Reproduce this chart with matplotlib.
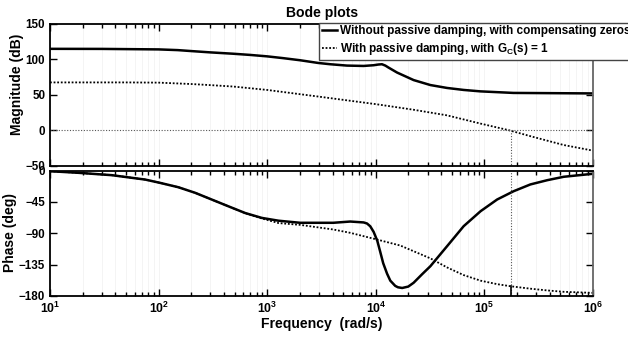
import matplotlib
matplotlib.use('Agg')
from matplotlib import pyplot as plt
from matplotlib import font_manager
import matplotlib.ticker as mticker

# condensed face for the horizontal texts, plain Liberation Sans otherwise
try:
    font_manager.findfont('Liberation Sans Narrow', fallback_to_default=False)
    NARROW = 'Liberation Sans Narrow'
    SCALE = 1.0
except ValueError:
    NARROW = 'Liberation Sans'
    SCALE = 0.84

plt.rcParams['font.family'] = ['Liberation Sans', 'DejaVu Sans']
plt.rcParams['font.weight'] = 'bold'
plt.rcParams['mathtext.fontset'] = 'custom'
plt.rcParams['mathtext.rm'] = NARROW + ':bold'
plt.rcParams['mathtext.bf'] = NARROW + ':bold'
plt.rcParams['mathtext.it'] = NARROW + ':bold'
plt.rcParams['mathtext.default'] = 'bf'

# magnitude, without passive damping (compensating zeros)
mag_w_solid = [10, 30, 100, 150, 202, 300, 486, 700, 1000, 1400, 2014, 2950,
               3810, 5430, 7730, 9550, 10550, 11400, 12240, 13100, 15700,
               22300, 31800, 45300, 64400, 91800, 185000, 1e6]
mag_solid = [114.6, 114.5, 113.8, 112.8, 111.4, 109.6, 107.7, 106.0, 104.0,
             101.5, 98.5, 94.7, 92.9, 91.0, 90.5, 91.5, 92.5, 92.9, 91.0, 88.2,
             81.2, 70.6, 63.6, 59.5, 56.7, 54.7, 52.5, 51.8]

# magnitude, with passive damping, Gc(s) = 1
mag_w_dotted = [10, 50, 100, 202, 300, 486, 1000, 2950, 10000, 22300, 45300,
                92200, 167600, 265000, 538000, 1e6]
mag_dotted = [67.3, 67.3, 67.0, 65.0, 63.5, 61.5, 56.7, 47.4, 36.7, 28.8, 20.9,
              9.3, 0.0, -8.4, -20.9, -28.8]

# phase, without passive damping
ph_w_solid = [10, 18.2, 37.1, 75.2, 103, 152, 217, 309, 440, 627, 893, 1271,
              2014, 4055, 5820, 7730, 8300, 8890, 9550, 10330, 11000, 11700,
              12700, 13600, 15100, 16000, 17500, 19900, 22300, 26600, 31800,
              45300, 64400, 92200, 131000, 186000, 265000, 379000, 538000, 1e6]
ph_solid = [-1.0, -3.3, -6.7, -13.0, -17.7, -24.0, -32.0, -41.7, -51.4, -61.0,
            -68.0, -72.0, -75.0, -75.0, -73.2, -74.5, -76.0, -80.0, -88.0,
            -101.0, -117.0, -133.0, -148.0, -158.0, -165.5, -167.5, -168.5,
            -166.5, -161.0, -149.0, -137.3, -108.6, -79.9, -58.4, -41.6, -29.7,
            -20.0, -13.9, -9.0, -4.7]

# phase, with passive damping
ph_w_dotted = [10, 18.2, 37.1, 75.2, 103, 152, 217, 309, 440, 627, 893, 1271,
               2014, 4055, 5820, 10250, 16800, 22300, 31800, 45300, 64400,
               92200, 131000, 174000, 265000, 379000, 538000, 1e6]
ph_dotted = [-1.0, -3.3, -6.7, -13.0, -17.7, -24.0, -32.0, -41.7, -51.4, -61.2,
             -68.8, -75.4, -78.0, -84.6, -89.4, -99.0, -107.6, -115.8, -126.0,
             -139.0, -150.0, -158.0, -163.0, -166.0, -169.5, -172.0, -174.0,
             -175.5]

# gain crossover of the damped loop and its phase there
w_cross = 174000
ph_cross = -166.0

xticks = [1e1, 1e2, 1e3, 1e4, 1e5, 1e6]
xticklabels = [r'$\mathbf{10^{%d}}$' % k for k in range(1, 7)]

fig = plt.figure(figsize=(6.28, 3.37), dpi=100)
ax_mag = fig.add_axes([50 / 628, 1 - 165.7 / 337, 543 / 628, 142 / 337])
ax_ph = fig.add_axes([50 / 628, 1 - 296 / 337, 543 / 628, 125.5 / 337])

l1, = ax_mag.plot(mag_w_solid, mag_solid, color='black', lw=1.8)
l2, = ax_mag.plot(mag_w_dotted, mag_dotted, color='black', lw=1.3,
                  linestyle=(0, (1, 1)))
ax_mag.axhline(0, color='#555555', lw=0.8, linestyle=(0, (1, 1.5)))
ax_mag.plot([w_cross, w_cross], [0, -50], color='#555555', lw=0.8,
            linestyle=(0, (1, 1.5)))
ax_mag.set_ylim(-50, 150)
ax_mag.set_yticks([-50, 0, 50, 100, 150])
ax_mag.set_ylabel('Magnitude (dB)', fontsize=10, fontweight='bold')
ax_mag.yaxis.set_label_coords(-0.047, 0.575)

ax_ph.plot(ph_w_solid, ph_solid, color='black', lw=1.8)
ax_ph.plot(ph_w_dotted, ph_dotted, color='black', lw=1.3,
           linestyle=(0, (1, 1)))
ax_ph.axhline(-180, color='#555555', lw=0.8, linestyle=(0, (1, 1.5)))
ax_ph.axvline(w_cross, color='#555555', lw=0.8, linestyle=(0, (1, 1.5)))
ax_ph.plot([w_cross, w_cross], [-180, ph_cross], color='black', lw=1.2)
ax_ph.set_ylim(-180, 0)
ax_ph.set_yticks([-180, -135, -90, -45, 0])
ax_ph.set_ylabel('Phase (deg)', fontsize=10, fontweight='bold')
ax_ph.yaxis.set_label_coords(-0.060, 0.506)
ax_ph.set_xlabel('Frequency  (rad/s)', fontsize=12 * SCALE, fontweight='bold',
                 family=NARROW)
ax_ph.xaxis.set_label_coords(0.5, -0.17)

for ax in (ax_mag, ax_ph):
    ax.set_xscale('log')
    ax.set_xlim(10, 1e6)
    ax.set_xticks(xticks)
    ax.xaxis.set_minor_locator(mticker.LogLocator(base=10, subs=range(2, 10),
                                                  numticks=20))
    ax.xaxis.set_minor_formatter(mticker.NullFormatter())
    ax.grid(True, which='both', axis='x', color='#f0f0f0', lw=0.5)
    ax.set_axisbelow(True)
    ax.tick_params(which='both', direction='in', top=True, right=True,
                   labelsize=10 * SCALE, width=1)
    ax.tick_params(which='major', length=5)
    ax.tick_params(which='minor', length=3)
    for sp in ax.spines.values():
        sp.set_linewidth(1.3)
    ax.spines['right'].set_color('#666666')
    for lab in ax.get_yticklabels():
        lab.set_fontweight('bold')
        lab.set_family(NARROW)

ax_mag.set_xticklabels([])
ax_ph.set_xticklabels(xticklabels, fontsize=10.5 * SCALE)

fig.text(322 / 628, 1 - 12.5 / 337, 'Bode plots', ha='center', va='center',
         fontsize=12 * SCALE, fontweight='bold', family=NARROW)

fig.legend([l1, l2],
           ['Without passive damping, with compensating zeros',
            r'With passive damping, with G$_\mathbf{C}$(s) = 1'],
           loc='upper left', bbox_to_anchor=(319 / 628, 1 - 22.5 / 337),
           borderaxespad=0, handlelength=1.3, handletextpad=0.2,
           borderpad=0.25, labelspacing=0.3, fancybox=False, framealpha=1,
           edgecolor='#444444',
           prop={'weight': 'bold', 'size': 10.1 * SCALE, 'family': NARROW})

plt.savefig('out.png', dpi=100)
